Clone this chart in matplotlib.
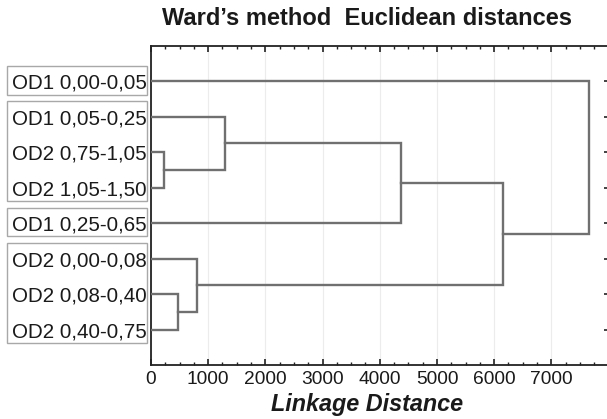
import matplotlib
matplotlib.use("Agg")
import matplotlib.pyplot as plt
from matplotlib.patches import Rectangle
from matplotlib.ticker import MultipleLocator
import matplotlib.transforms as mtrans

plt.rcParams['font.family'] = ['Liberation Sans', 'DejaVu Sans']

# leaves, top to bottom
leaf_labels = ["OD1 0,00-0,05", "OD1 0,05-0,25", "OD2 0,75-1,05", "OD2 1,05-1,50",
               "OD1 0,25-0,65", "OD2 0,00-0,08", "OD2 0,08-0,40", "OD2 0,40-0,75"]
# merges: (cluster a, cluster b, linkage distance); new ids start at len(leaf_labels)
merge_a = [2, 6, 5, 1, 11, 12, 0]
merge_b = [3, 7, 9, 8, 4, 10, 13]
merge_h = [230, 470, 800, 1290, 4370, 6150, 7660]
# label boxes (groups of leaf indices)
box_groups = [[0], [1, 2, 3], [4], [5, 6, 7]]

title = "Ward\u2019s method  Euclidean distances"
xlabel = "Linkage Distance"
xticks = [0, 1000, 2000, 3000, 4000, 5000, 6000, 7000]

W, H = 607, 419
fig = plt.figure(figsize=(W / 100, H / 100), dpi=100)
ax = fig.add_axes([151 / W, (H - 365) / H, (608 - 151) / W, (365 - 46) / H])

n = len(leaf_labels)
pos = {i: (0.0, i + 1.0) for i in range(n)}
line_color = '#707070'
for k, (a, b, h) in enumerate(zip(merge_a, merge_b, merge_h)):
    ha, ya = pos[a]
    hb, yb = pos[b]
    ax.plot([ha, h, h, hb], [ya, ya, yb, yb], color=line_color, lw=1.7,
            solid_joinstyle='miter', zorder=3)
    pos[n + k] = (h, (ya + yb) / 2)

ax.set_xlim(0, 7990)
ax.set_ylim(n + 1, 0)
ax.set_xticks(xticks)
ax.set_xticklabels([str(t) for t in xticks], fontsize=13.8, color='#1a1a1a')
ax.xaxis.set_minor_locator(MultipleLocator(250))
ax.set_yticks(range(1, n + 1))
ax.set_yticklabels(leaf_labels, fontsize=14.8, color='#1a1a1a')

ax.tick_params(axis='x', which='major', direction='in', length=4, width=1.2,
               top=True, bottom=True, pad=4, color='#222222')
ax.tick_params(axis='x', which='minor', direction='in', length=2.5, width=1.0,
               top=True, bottom=True, color='#222222')
ax.tick_params(axis='y', direction='in', length=3, width=1.2, left=True, right=True,
               pad=3, color='#222222')

ax.grid(axis='x', which='major', color='#ececec', lw=0.8, zorder=0)
for s in ax.spines.values():
    s.set_linewidth(1.3)
    s.set_color('#222222')

# label boxes
tr = mtrans.blended_transform_factory(fig.transFigure, ax.transData)
for g in box_groups:
    y0 = g[0] + 1 - 0.44
    y1 = g[-1] + 1 + 0.37
    rect = Rectangle((7 / W, y0), 140 / W, y1 - y0, transform=tr, fill=False,
                     edgecolor='#a8a8a8', lw=1.0, clip_on=False)
    fig.add_artist(rect)

fig.text(367.5 / W, (H - 25) / H, title, ha='center', va='baseline',
         fontsize=17, fontweight='bold', color='#1a1a1a')
fig.text(367 / W, (H - 411) / H, xlabel, ha='center', va='baseline',
         fontsize=16.8, fontweight='bold', fontstyle='italic', color='#1a1a1a')

fig.savefig('out.png', dpi=100)
